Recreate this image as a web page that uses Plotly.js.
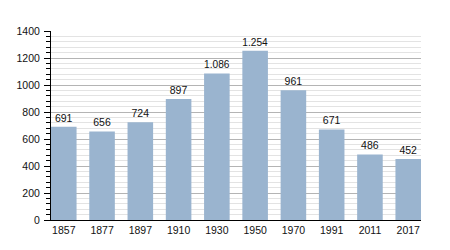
<!DOCTYPE html>
<html>
<head>
<meta charset="utf-8">
<script src="https://cdn.plot.ly/plotly-3.0.1.min.js"></script>
<style>
html,body{margin:0;padding:0;background:#fff;}
#chart{width:450px;height:250px;}
</style>
</head>
<body>
<div id="chart"></div>
<script>
const years = ["1857","1877","1897","1910","1930","1950","1970","1991","2011","2017"];
const population = [691, 656, 724, 897, 1086, 1254, 961, 671, 486, 452];
const yTickVals = [0, 200, 400, 600, 800, 1000, 1200, 1400];

const barColor = "#9ab4cf";
const font = {family: "Liberation Sans, Arial, sans-serif", size: 10.5, color: "#111"};

Plotly.newPlot("chart", [{
  type: "bar",
  x: years,
  y: population,
  marker: {color: barColor, line: {width: 0}},
  texttemplate: "%{y:,.0f}",
  textposition: "outside",
  cliponaxis: false,
  textfont: {family: font.family, size: 10.5, color: "#111"},
  hoverinfo: "none"
}], {
  width: 450,
  height: 250,
  margin: {l: 51, r: 29, t: 31, b: 30, pad: 0},
  paper_bgcolor: "#fff",
  plot_bgcolor: "#fff",
  separators: ",.",
  bargap: 0.332,
  showlegend: false,
  font: font,
  xaxis: {
    type: "category",
    range: [-0.334, 9.334],
    showgrid: false,
    showline: true,
    linecolor: "#000",
    linewidth: 1,
    ticks: "",
    tickfont: font,
    fixedrange: true
  },
  yaxis: {
    range: [0, 1400],
    tickvals: yTickVals,
    showline: true,
    linecolor: "#000",
    linewidth: 1,
    ticks: "outside",
    ticklen: 6,
    tickcolor: "#000",
    tickwidth: 1,
    ticklabelstandoff: 2,
    showgrid: true,
    gridcolor: "#b4b4b4",
    gridwidth: 1,
    zeroline: false,
    tickfont: font,
    minor: {
      dtick: 40,
      tick0: 0,
      showgrid: true,
      gridcolor: "#e3e3e3",
      gridwidth: 1,
      ticks: "outside",
      ticklen: 4,
      tickcolor: "#000",
      tickwidth: 1
    },
    fixedrange: true
  }
}, {displayModeBar: false, staticPlot: true});
</script>
</body>
</html>
